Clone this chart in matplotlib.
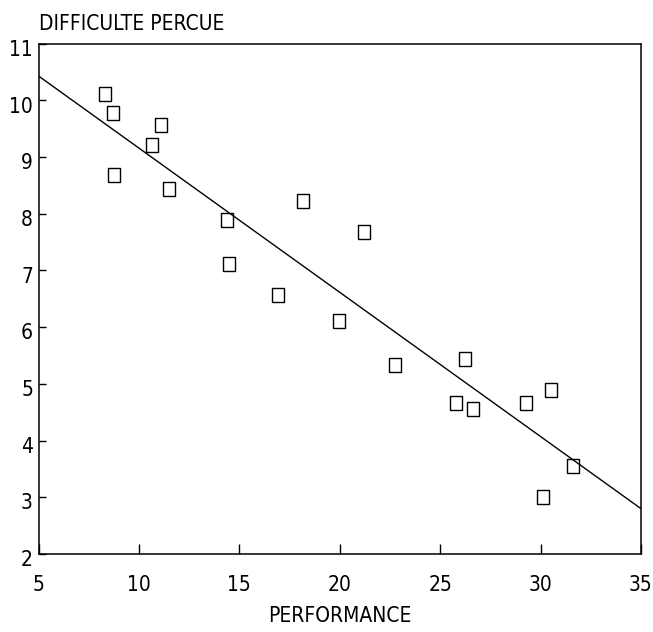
import matplotlib
matplotlib.use("Agg")
import numpy as np
from matplotlib import pyplot as plt
from matplotlib.transforms import ScaledTranslation

# performance vs perceived difficulty
perf = [8.31, 8.71, 11.09, 10.66, 8.74, 11.51, 14.41, 14.49, 18.16, 16.93,
        21.19, 19.98, 22.75, 26.22, 25.81, 26.65, 29.29, 30.53, 31.59, 30.10]
diff = [10.11, 9.78, 9.56, 9.22, 8.68, 8.44, 7.89, 7.12, 8.23, 6.57,
        7.68, 6.11, 5.33, 5.44, 4.67, 4.56, 4.67, 4.89, 3.56, 3.00]

# fitted line, end points at x=5 and x=35
fit_x = [5, 35]
fit_y = [10.43, 2.80]

xticks = [5, 10, 15, 20, 25, 30, 35]
yticks = [2, 3, 4, 5, 6, 7, 8, 9, 10, 11]

plt.rcParams['font.family'] = ['DejaVu Sans']
plt.rcParams['font.stretch'] = 'condensed'

fig = plt.figure(figsize=(6.53, 6.32), dpi=100)
ax = fig.add_axes([0.059, 0.1234, 0.9226, 0.8075])

# tall open rectangle marker
rect = [(-0.38, -0.5), (0.38, -0.5), (0.38, 0.5), (-0.38, 0.5), (-0.38, -0.5)]
ax.plot(perf, diff, linestyle='none', marker=rect, markersize=10.5,
        markerfacecolor='white', markeredgecolor='black', markeredgewidth=1.0)
ax.plot(fit_x, fit_y, color='black', lw=1.0)

ax.set_xlim(5, 35)
ax.set_ylim(2, 11)
ax.set_xticks(xticks)
ax.set_yticks(yticks)
ax.tick_params(axis='x', direction='in', length=7.5, width=1.0, labelsize=15, pad=15)
ax.tick_params(axis='y', direction='in', length=5, width=1.0, labelsize=15, pad=4)
# y labels sit a little below their ticks
shift = ScaledTranslation(0, -3 / 72, fig.dpi_scale_trans)
for lab in ax.get_yticklabels():
    lab.set_transform(lab.get_transform() + shift)
for s in ax.spines.values():
    s.set_linewidth(1.1)

ax.set_xlabel("PERFORMANCE", fontsize=15, labelpad=8)
fig.text(0.059, 0.952, "DIFFICULTE PERCUE", fontsize=15, ha='left', va='baseline')

fig.savefig("out.png", dpi=100)
